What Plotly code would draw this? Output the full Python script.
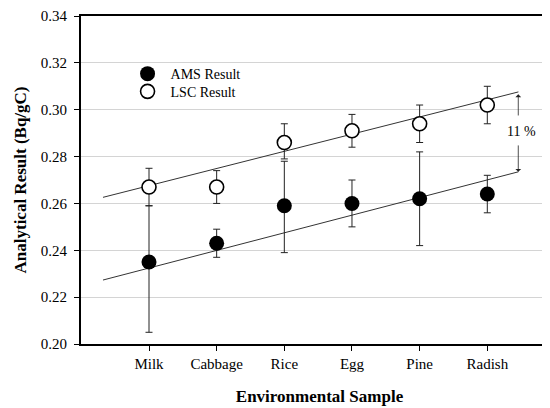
import plotly.graph_objects as go

samples = ["Milk", "Cabbage", "Rice", "Egg", "Pine", "Radish"]
x_pos = [1, 2, 3, 4, 5, 6]

ams_value = [0.235, 0.243, 0.259, 0.260, 0.262, 0.264]
ams_high = [0.259, 0.249, 0.278, 0.270, 0.282, 0.272]
ams_low = [0.205, 0.237, 0.239, 0.250, 0.242, 0.256]

lsc_value = [0.267, 0.267, 0.286, 0.291, 0.294, 0.302]
lsc_high = [0.275, 0.274, 0.294, 0.298, 0.302, 0.310]
lsc_low = [0.259, 0.260, 0.279, 0.284, 0.286, 0.294]

trend_x = [0.32, 6.46]
ams_trend = [0.2273, 0.2735]
lsc_trend = [0.2626, 0.3076]

y_ticks = [0.20, 0.22, 0.24, 0.26, 0.28, 0.30, 0.32, 0.34]

FONT = "Liberation Serif"

fig = go.Figure()

fig.add_trace(go.Scatter(x=trend_x, y=lsc_trend, mode="lines",
                         line=dict(color="#333333", width=1), showlegend=False,
                         hoverinfo="skip"))
fig.add_trace(go.Scatter(x=trend_x, y=ams_trend, mode="lines",
                         line=dict(color="#333333", width=1), showlegend=False,
                         hoverinfo="skip"))

fig.add_trace(go.Scatter(
    x=x_pos, y=ams_value, mode="markers", name="AMS Result", legend="legend",
    marker=dict(symbol="circle", size=15, color="black"),
    error_y=dict(type="data", symmetric=False,
                 array=[h - v for h, v in zip(ams_high, ams_value)],
                 arrayminus=[v - l for v, l in zip(ams_value, ams_low)],
                 color="#222222", thickness=1, width=3.5),
))
fig.add_trace(go.Scatter(
    x=x_pos, y=lsc_value, mode="markers", name="LSC Result", legend="legend2",
    marker=dict(symbol="circle", size=14, color="white",
                line=dict(color="black", width=1.6)),
    error_y=dict(type="data", symmetric=False,
                 array=[h - v for h, v in zip(lsc_high, lsc_value)],
                 arrayminus=[v - l for v, l in zip(lsc_value, lsc_low)],
                 color="#222222", thickness=1, width=3.5),
))

# white box behind the legend, hiding the gridlines there
fig.add_shape(type="rect", xref="paper", yref="paper", x0=0.086, x1=0.365,
              y0=0.69, y1=0.90, fillcolor="white", line=dict(width=0),
              layer="between")

# 11 % difference indicator
fig.add_annotation(x=6.458, y=0.3066, ax=6.458, ay=0.2969, xref="x", yref="y",
                   axref="x", ayref="y", text="", showarrow=True,
                   arrowhead=1, arrowsize=1.2, arrowwidth=0.8, arrowcolor="#222222")
fig.add_annotation(x=6.458, y=0.2735, ax=6.458, ay=0.2854, xref="x", yref="y",
                   axref="x", ayref="y", text="", showarrow=True,
                   arrowhead=1, arrowsize=1.2, arrowwidth=0.8, arrowcolor="#222222")
fig.add_annotation(x=6.50, y=0.2905, xref="x", yref="y", text="11 %",
                   showarrow=False, font=dict(family=FONT, size=14, color="black"))

legend_style = dict(xanchor="left", yanchor="middle", bgcolor="rgba(0,0,0,0)",
                    borderwidth=0, font=dict(family=FONT, size=14, color="black"),
                    itemwidth=36)

fig.update_layout(
    width=550, height=408,
    margin=dict(l=73, r=0, t=6, b=72),
    paper_bgcolor="white", plot_bgcolor="white",
    font=dict(family=FONT, size=15, color="black"),
    showlegend=True,
    legend=dict(x=0.0913, y=0.823, **legend_style),
    legend2=dict(x=0.0913, y=0.769, **legend_style),
    xaxis=dict(range=[-0.005, 7.045], tickmode="array", tickvals=x_pos,
               ticktext=samples, showgrid=False, zeroline=False,
               showline=True, linecolor="black", linewidth=2, mirror=True,
               ticks="outside", ticklen=5, tickcolor="black",
               tickfont=dict(family=FONT, size=15),
               ticklabeloverflow="allow",
               title=dict(text="<b>Environmental Sample</b>",
                          font=dict(family=FONT, size=17), standoff=19)),
    yaxis=dict(range=[0.20, 0.34], tickmode="array", tickvals=y_ticks,
               ticktext=[f"{v:.2f}" for v in y_ticks],
               showgrid=True, gridcolor="#d4d4d4", gridwidth=1, zeroline=False,
               showline=True, linecolor="black", linewidth=2,
               ticks="outside", ticklen=5, tickcolor="black",
               tickfont=dict(family=FONT, size=15),
               ticklabelstandoff=4, ticklabeloverflow="allow",
               title=dict(text="<b>Analytical Result (Bq/gC)</b>",
                          font=dict(family=FONT, size=17), standoff=10)),
)

fig.write_html("out.html")
